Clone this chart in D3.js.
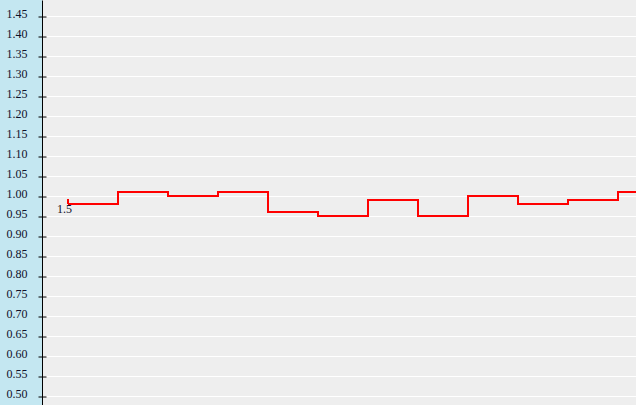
<!DOCTYPE html>
<html><head><meta charset="utf-8">
<script src="https://cdn.jsdelivr.net/npm/d3@7"></script>
<style>html,body{margin:0;padding:0;background:#eeeeee;overflow:hidden}</style>
</head><body>
<svg id="c" width="636" height="405"></svg>
<script>
// Data
const periods = [1,2,3,4,5,6,7,8,9,10,11,12];
const values  = [0.98,1.01,1.00,1.01,0.96,0.95,0.99,0.95,1.00,0.98,0.99,1.01];
const yTicks  = [0.50,0.55,0.60,0.65,0.70,0.75,0.80,0.85,0.90,0.95,1.00,1.05,1.10,1.15,1.20,1.25,1.30,1.35,1.40,1.45];
const xLabel  = "1.5";

const W = 636, H = 405, axisX = 42;
const svg = d3.select("#c");

const y = d3.scaleLinear().domain([0.5, 1.45]).range([396, 16]);
const x = d3.scaleLinear().domain([1, 13]).range([68, 668]);

svg.append("rect").attr("x",0).attr("y",0).attr("width",W).attr("height",H).attr("fill","#eeeeee");
svg.append("rect").attr("x",0).attr("y",0).attr("width",axisX).attr("height",H).attr("fill","#c4e7f1");

// grid
svg.append("g").selectAll("line").data(yTicks).join("line")
  .attr("x1",axisX).attr("x2",W)
  .attr("y1",d=>Math.round(y(d))+0.5).attr("y2",d=>Math.round(y(d))+0.5)
  .attr("stroke","#ffffff").attr("stroke-width",1);

// axis
const ax = d3.axisLeft(y).tickValues(yTicks).tickFormat(d3.format(".2f")).tickSize(4).tickSizeOuter(0);
const g = svg.append("g").attr("transform",`translate(${axisX+0.5},0.5)`).call(ax);
g.select(".domain").attr("d",`M0,0V${H}`).attr("stroke","#000");
g.selectAll(".tick line").attr("x1",-4).attr("x2",4).attr("stroke","#000");
g.selectAll(".tick text").attr("x",-15).attr("dy","0.08em")
  .attr("font-family","'Liberation Serif','Times New Roman',serif").attr("font-size","12px").attr("fill","#10102a");

// x label (under the line)
svg.append("text").attr("x",x(1)-11).attr("y",y(values[0])+9)
  .attr("font-family","'Liberation Serif','Times New Roman',serif").attr("font-size","12px").attr("fill","#10102a")
  .text(xLabel);

// step line
const pts = periods.map((p,i)=>[p, values[i]]);
pts.push([periods[periods.length-1]+1, values[values.length-1]]);
const line = d3.line().x(d=>x(d[0])).y(d=>y(d[1])).curve(d3.curveStepAfter);
svg.append("path").datum(pts).attr("d",line)
  .attr("fill","none").attr("stroke","#ff0000").attr("stroke-width",2);
// start marker
svg.append("line").attr("x1",x(1)).attr("x2",x(1)).attr("y1",y(values[0])-5).attr("y2",y(values[0]))
  .attr("stroke","#ff0000").attr("stroke-width",2);
</script>
</body></html>
